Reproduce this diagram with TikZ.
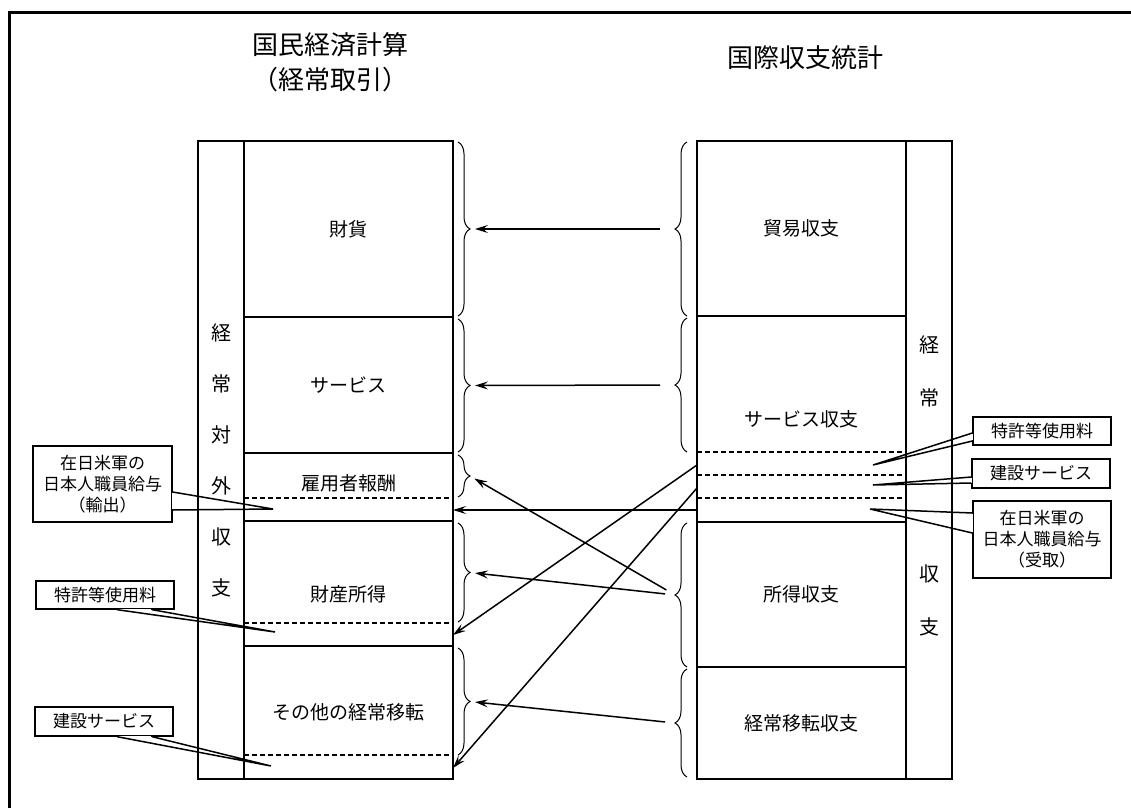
\documentclass[tikz,border=0pt]{standalone}
\usepackage{fontspec}
\setmainfont{Noto Sans CJK JP}
\usetikzlibrary{arrows.meta,positioning,decorations.pathreplacing}

\begin{document}
\begin{tikzpicture}[x=1pt,y=-1pt,>={Stealth[length=13pt,width=8pt,inset=5pt]},
  box/.style={draw,line width=2.7pt,inner sep=0pt,outer sep=0pt,minimum width=209pt,font=\fontsize{19}{22}\selectfont},
  sidecol/.style={draw,line width=2.7pt,inner sep=0pt,outer sep=0pt,minimum width=46pt,minimum height=638pt,align=center,font=\fontsize{20}{51}\selectfont},
  dline/.style={dash pattern=on 5pt off 3pt,line width=2pt},
  thinline/.style={line width=1.5pt},
  arrowline/.style={->,line width=1.5pt,shorten <=10pt,shorten >=5pt},
  tag/.style={draw,line width=1.3pt,inner sep=0pt,align=center,font=\fontsize{17}{21}\selectfont},
  curly/.style={decorate,decoration={brace,amplitude=12pt},line width=1pt}]
  \useasboundingbox (0,0) rectangle (1131,808);
  \draw[line width=3pt] (9,808) -- (9,13) -- (1131,13);

  % titles
  \node[font=\fontsize{26}{35}\selectfont,align=center] (tleft) at (330,62) {国民経済計算\\（経常取引）};
  \node[font=\fontsize{26}{32}\selectfont] (tright) at (805,58) {国際収支統計};

  % left side
  \node[sidecol] (lcol) at (221,460) {経\\常\\対\\外\\収\\支};
  \node[box,minimum height=176pt,anchor=north west] (lgoods) at (244,141) {財貨};
  \node[box,minimum height=136pt,below=0pt of lgoods] (lserv) {サービス};
  \node[box,minimum height=68pt,below=0pt of lserv] (lcomp) {};
  \node[box,minimum height=125pt,below=0pt of lcomp] (lprop) {};
  \node[box,minimum height=133pt,below=0pt of lprop] (ltrans) {その他の経常移転};
  \node[font=\fontsize{19}{22}\selectfont] (tcomp) at (348.5,483) {雇用者報酬};
  \node[font=\fontsize{19}{22}\selectfont] (tprop) at (348.5,594) {財産所得};
  \draw[dline] ([yshift=23pt]lcomp.south west) -- ([yshift=23pt]lcomp.south east);
  \draw[dline] ([yshift=23pt]lprop.south west) -- ([yshift=23pt]lprop.south east);
  \draw[dline] ([yshift=24pt]ltrans.south west) -- ([yshift=24pt]ltrans.south east);

  % right side
  \node[sidecol] (rcol) at (929,460) {};
  \node[box,minimum height=175pt,anchor=north west] (rtrade) at (697,141) {貿易収支};
  \node[box,minimum height=206pt,below=0pt of rtrade] (rserv) {サービス収支};
  \node[box,minimum height=145pt,below=0pt of rserv] (rinc) {所得収支};
  \node[box,minimum height=112pt,below=0pt of rinc] (rtrans) {経常移転収支};
  \node[font=\fontsize{20}{53}\selectfont,align=center] (rkei) at (929,371) {経\\常};
  \node[font=\fontsize{20}{53}\selectfont,align=center] (rshu) at (929,600) {収\\支};
  \draw[dline] ([yshift=70pt]rserv.south west) -- ([yshift=70pt]rserv.south east);
  \draw[dline] ([yshift=47pt]rserv.south west) -- ([yshift=47pt]rserv.south east);
  \draw[dline] ([yshift=24pt]rserv.south west) -- ([yshift=24pt]rserv.south east);

  % braces
  \draw[curly] (458,142) -- (458,316);
  \draw[curly] (458,319) -- (458,452);
  \draw[curly] (458,455) -- (458,497);
  \draw[curly] (458,523) -- (458,622);
  \draw[curly] (458,648) -- (458,755);
  \draw[curly] (687,316) -- (687,142);
  \draw[curly] (687,452) -- (687,318);
  \draw[curly] (687,667) -- (687,523);
  \draw[curly] (687,777) -- (687,669);
  \coordinate (bgoods) at (470,229);
  \coordinate (bserv) at (470,385.5);
  \coordinate (bcomp) at (470,476);
  \coordinate (bprop) at (470,572.5);
  \coordinate (btrans) at (470,701.5);
  \coordinate (btrade) at (675,229);
  \coordinate (bserv2) at (675,385);
  \coordinate (binc) at (675,595);
  \coordinate (btrans2) at (675,723);

  % arrows
  \draw[arrowline,shorten <=15pt] (btrade) -- (bgoods);
  \draw[arrowline,shorten <=15pt] (bserv2) -- (bserv);
  \draw[arrowline] (binc) -- (bcomp);
  \draw[arrowline] (binc) -- (bprop);
  \draw[arrowline] (btrans2) -- (btrans);
  \draw[thinline,->] ([yshift=12pt]rserv.south west) -- ([yshift=11pt]lcomp.south east);
  \draw[thinline,->] ([yshift=57pt]rserv.south west) -- ([yshift=11pt]lprop.south east);
  \draw[thinline,->] ([yshift=34pt]rserv.south west) -- ([yshift=11pt]ltrans.south east);

  % callouts, left
  \node[tag,minimum width=139pt,minimum height=76pt] (zaiL) at (102.5,484) {在日米軍の\\日本人職員給与\\（輸出）};
  \coordinate (zaiLtip) at (273,509);
  \draw[white,line width=2pt] ([yshift=-9pt]zaiL.east) -- ([yshift=-25pt]zaiL.east);
  \draw[thinline] ([yshift=-8pt]zaiL.east) -- (zaiLtip) -- ([yshift=-26pt]zaiL.east);
  \node[tag,minimum width=138pt,minimum height=28pt] (patL) at (105,595) {特許等使用料};
  \coordinate (patLtip) at (275,632);
  \draw[white,line width=2pt] ([xshift=13pt]patL.south) -- ([xshift=46pt]patL.south);
  \draw[thinline] ([xshift=12pt]patL.south) -- (patLtip) -- ([xshift=47pt]patL.south);
  \node[tag,minimum width=138pt,minimum height=29pt] (conL) at (104,721.5) {建設サービス};
  \coordinate (conLtip) at (271,766);
  \draw[white,line width=2pt] ([xshift=14pt]conL.south) -- ([xshift=47pt]conL.south);
  \draw[thinline] ([xshift=13pt]conL.south) -- (conLtip) -- ([xshift=48pt]conL.south);

  % callouts, right
  \node[tag,minimum width=138pt,minimum height=28pt] (patR) at (1042,431) {特許等使用料};
  \coordinate (patRtip) at (873,465);
  \draw[white,line width=2pt] ([yshift=-3pt]patR.west) -- ([yshift=-9pt]patR.west);
  \draw[thinline] ([yshift=-2pt]patR.west) -- (patRtip) -- ([yshift=-10pt]patR.west);
  \node[tag,minimum width=138pt,minimum height=29pt] (conR) at (1041,473.5) {建設サービス};
  \coordinate (conRtip) at (873,485);
  \draw[white,line width=2pt] ([yshift=-4pt]conR.west) -- ([yshift=-9pt]conR.west);
  \draw[thinline] ([yshift=-3.5pt]conR.west) -- (conRtip) -- ([yshift=-9.5pt]conR.west);
  \node[tag,minimum width=138pt,minimum height=77pt] (zaiR) at (1042,539.5) {在日米軍の\\日本人職員給与\\（受取）};
  \coordinate (zaiRtip) at (870,509);
  \draw[white,line width=2pt] ([yshift=25.5pt]zaiR.west) -- ([yshift=7.5pt]zaiR.west);
  \draw[thinline] ([yshift=26.5pt]zaiR.west) -- (zaiRtip) -- ([yshift=6.5pt]zaiR.west);
\end{tikzpicture}
\end{document}
